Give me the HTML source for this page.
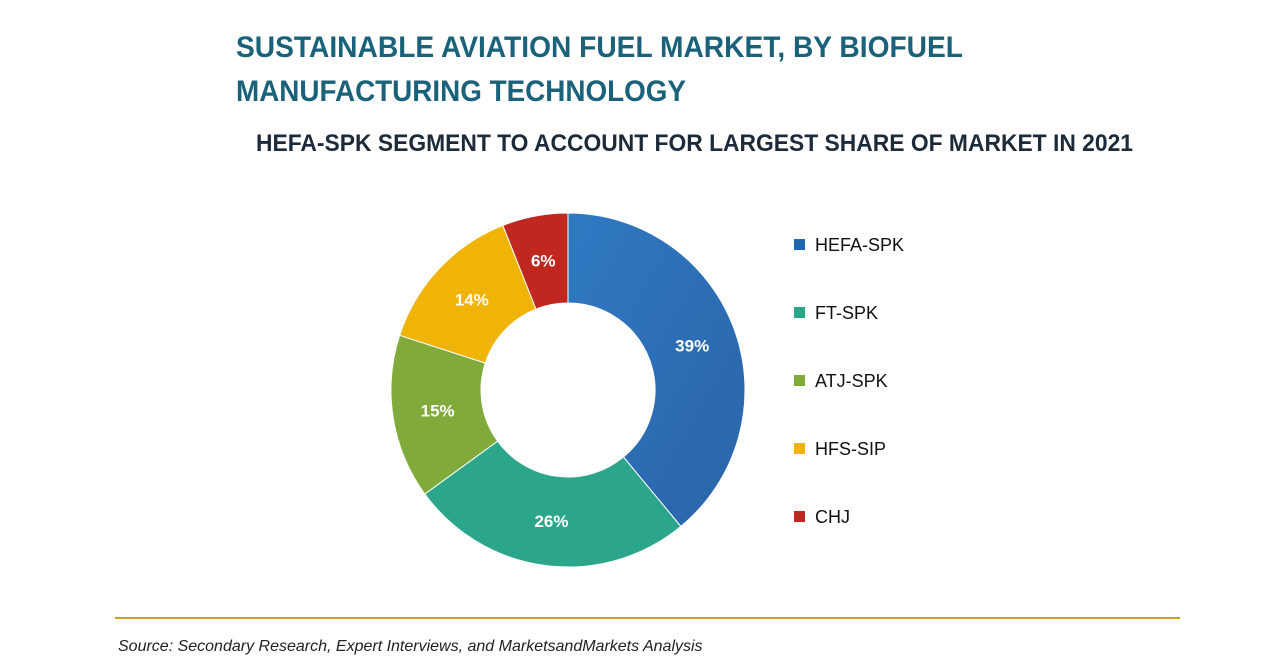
<!DOCTYPE html>
<html><head><meta charset="utf-8"><style>
body{margin:0;background:#fff;width:1280px;height:670px;overflow:hidden;font-family:"Liberation Sans",sans-serif}
svg{display:block}
</style></head><body>
<svg width="1280" height="670" viewBox="0 0 1280 670">
<defs>
<linearGradient id="gb" x1="0" y1="0" x2="1" y2="1"><stop offset="0" stop-color="#2f79c2"/><stop offset="1" stop-color="#2a64a8"/></linearGradient>
</defs>
<text x="236" y="57" font-size="30" font-weight="bold" fill="#1a627a" textLength="727" lengthAdjust="spacingAndGlyphs">SUSTAINABLE AVIATION FUEL MARKET, BY BIOFUEL</text>
<text x="236" y="101" font-size="30" font-weight="bold" fill="#1a627a" textLength="450" lengthAdjust="spacingAndGlyphs">MANUFACTURING TECHNOLOGY</text>
<text x="256" y="151" font-size="24" font-weight="bold" fill="#1c2a3a" textLength="877" lengthAdjust="spacingAndGlyphs">HEFA-SPK SEGMENT TO ACCOUNT FOR LARGEST SHARE OF MARKET IN 2021</text>
<g id="donut"></g>
<g id="legend"></g>
<line x1="115" y1="618" x2="1180" y2="618" stroke="#c9a227" stroke-width="2"/>
<text x="118" y="651" font-size="16" font-style="italic" fill="#222">Source: Secondary Research, Expert Interviews, and MarketsandMarkets Analysis</text>
</svg>
<script>
const categories=["HEFA-SPK","FT-SPK","ATJ-SPK","HFS-SIP","CHJ"];
const values=[39,26,15,14,6];
const colors=["url(#gb)","#2ba68b","#80aa3a","#f0b406","#c0281f"];
const legendColors=["#2166b0","#2ba68b","#80aa3a","#f0b406","#c0281f"];
const NS="http://www.w3.org/2000/svg";
const cx=568,cy=390,R=177,r=87;
const total=values.reduce((a,b)=>a+b,0);
const g=document.getElementById('donut');
function pt(rad,a){return [cx+rad*Math.sin(a),cy-rad*Math.cos(a)];}
let acc=0;
values.forEach((v,i)=>{
  const a0=acc/total*2*Math.PI;acc+=v;const a1=acc/total*2*Math.PI;
  const large=(a1-a0)>Math.PI?1:0;
  const [x0,y0]=pt(R,a0),[x1,y1]=pt(R,a1),[x2,y2]=pt(r,a1),[x3,y3]=pt(r,a0);
  const p=document.createElementNS(NS,'path');
  p.setAttribute('d',`M${x0},${y0}A${R},${R} 0 ${large} 1 ${x1},${y1}L${x2},${y2}A${r},${r} 0 ${large} 0 ${x3},${y3}Z`);
  p.setAttribute('fill',colors[i]);p.setAttribute('stroke','#fff');p.setAttribute('stroke-width','1');
  
  
  g.appendChild(p);
  const [lx,ly]=pt((R+r)/2,(a0+a1)/2);
  const t=document.createElementNS(NS,'text');
  t.setAttribute('x',lx);t.setAttribute('y',ly+6);t.setAttribute('text-anchor','middle');
  t.setAttribute('font-size','17');t.setAttribute('font-weight','bold');t.setAttribute('fill','#fff');
  t.textContent=v+'%';
  
  
  g.appendChild(t);
});
const lg=document.getElementById('legend');
categories.forEach((c,i)=>{
  const y=245+i*68;
  const s=document.createElementNS(NS,'rect');
  s.setAttribute('x',794);s.setAttribute('y',y-6);s.setAttribute('width',11);s.setAttribute('height',11);
  s.setAttribute('fill',legendColors[i]);
  
  
  lg.appendChild(s);
  const t=document.createElementNS(NS,'text');
  t.setAttribute('x',815);t.setAttribute('y',y+6);t.setAttribute('font-size','18');t.setAttribute('fill','#111');
  t.textContent=c;
  
  
  lg.appendChild(t);
});
</script>
</body></html>
